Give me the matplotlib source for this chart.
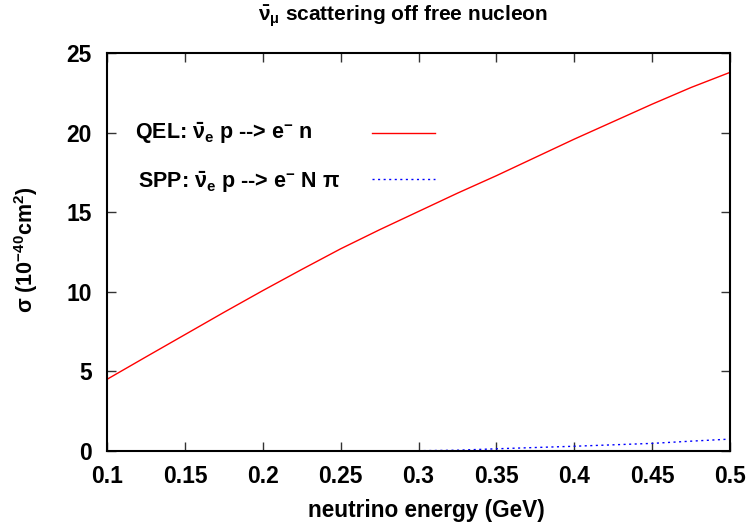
import matplotlib
matplotlib.use("Agg")
import matplotlib.pyplot as plt
from matplotlib.lines import Line2D

plt.rcParams['font.family'] = ['Liberation Sans', 'DejaVu Sans']
plt.rcParams['font.weight'] = 'bold'
plt.rcParams['mathtext.fontset'] = 'custom'
plt.rcParams['mathtext.rm'] = 'Liberation Sans:bold'
plt.rcParams['mathtext.it'] = 'Liberation Sans:bold'
plt.rcParams['mathtext.bf'] = 'Liberation Sans:bold'

# Data
qel_energy = [0.1, 0.125, 0.15, 0.175, 0.2, 0.225, 0.25, 0.275, 0.3, 0.325,
              0.35, 0.375, 0.4, 0.425, 0.45, 0.475, 0.5]
qel_sigma = [4.49, 5.9, 7.3, 8.7, 10.07, 11.4, 12.7, 13.9, 15.05, 16.2,
             17.3, 18.45, 19.6, 20.7, 21.8, 22.85, 23.8]
spp_energy = [0.1, 0.15, 0.2, 0.25, 0.3, 0.325, 0.35, 0.375, 0.4, 0.425,
              0.45, 0.475, 0.5]
spp_sigma = [0.0, 0.0, 0.0, 0.0, 0.0, 0.03, 0.12, 0.2, 0.28, 0.37,
             0.46, 0.6, 0.73]
xticks = [0.1, 0.15, 0.2, 0.25, 0.3, 0.35, 0.4, 0.45, 0.5]
xticklabels = ['0.1', '0.15', '0.2', '0.25', '0.3', '0.35', '0.4', '0.45', '0.5']
yticks = [0, 5, 10, 15, 20, 25]
yticklabels = ['0', '5', '10', '15', '20', '25']

W, H = 751, 524
fig = plt.figure(figsize=(W / 100, H / 100), dpi=100)
ax = fig.add_axes([107 / W, 1 - 450.7 / H, (730 - 107) / W, (450.7 - 53.3) / H])

ax.plot(qel_energy, qel_sigma, color='#ff0000', lw=1.0)
ax.plot(spp_energy, spp_sigma, color='#0000ff', lw=1.0, linestyle=(0, (1.5, 2.5)))

ax.set_xlim(0.1, 0.5)
ax.set_ylim(0, 25)
ax.set_xticks(xticks)
ax.set_xticklabels(xticklabels)
ax.set_yticks(yticks)
ax.set_yticklabels(yticklabels)
ax.tick_params(direction='in', length=6.5, width=1.0, top=True, right=True,
               labelsize=16.5, color='#333333')
ax.tick_params(axis='x', pad=10.5)
ax.tick_params(axis='y', pad=10.8)
for lab in ax.get_xticklabels() + ax.get_yticklabels():
    lab.set_fontweight('bold')
for s in ax.spines.values():
    s.set_linewidth(1.5)

fig.text(403 / W, 1 - 17 / H, r'$\bar{\nu}_{\mu}$ scattering off free nucleon',
         ha='center', va='center', fontsize=15, fontweight='bold')
fig.text(426 / W, 1 - 510.5 / H, 'neutrino energy (GeV)', ha='center', va='center',
         fontsize=16.3, fontweight='bold')
fig.text(26 / W, 1 - 250 / H, r'$\sigma$ (10$^{-40}$cm$^{2}$)', ha='center', va='center',
         rotation=90, fontsize=15.5, fontweight='bold')

# Legend
fig.text(135 / W, 1 - 133 / H, r'QEL: $\bar{\nu}_{e}$ p --> e$^{-}$ n', ha='left', va='center',
         fontsize=15.5, fontweight='bold')
fig.text(138 / W, 1 - 182 / H, r'SPP: $\bar{\nu}_{e}$ p --> e$^{-}$ N $\pi$', ha='left', va='center',
         fontsize=15.5, fontweight='bold')
fig.add_artist(Line2D([372 / W, 435 / W], [1 - 133 / H, 1 - 133 / H], color='#ff0000', lw=1.0))
fig.add_artist(Line2D([372 / W, 435 / W], [1 - 179 / H, 1 - 179 / H], color='#0000ff', lw=1.0,
                      linestyle=(0, (1.5, 2.5))))

fig.savefig('out.png', dpi=100, facecolor='white')
